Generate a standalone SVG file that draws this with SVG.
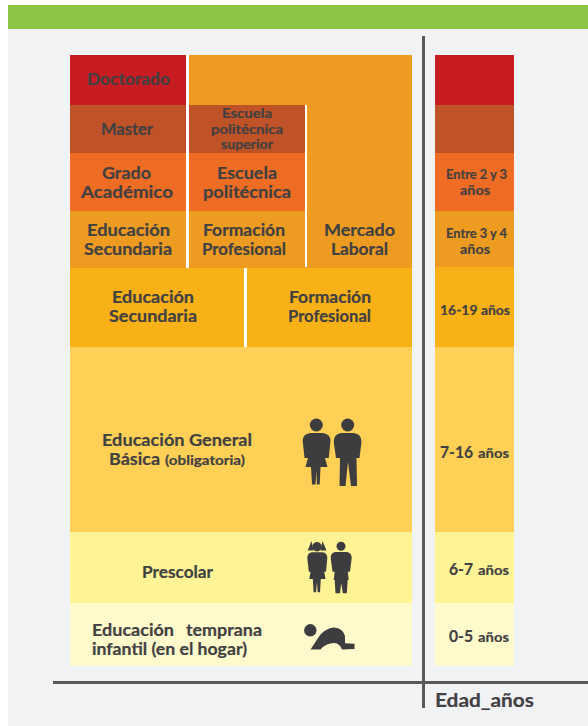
<svg xmlns="http://www.w3.org/2000/svg" width="588" height="726" viewBox="0 0 588 726">
<style>
text{font-family:"Lato","Open Sans","Liberation Sans",sans-serif;font-weight:700;fill:#414042;text-anchor:start;stroke:#414042;stroke-width:.2}
.a{font-size:17px}.b{font-size:14px}.s{font-size:12.5px}
.ic{fill:#3d3d3f}
.red{fill:#c71c22}.brn{fill:#bf5227}.org{fill:#ee6c23}.amb{fill:#ee9b21}.gld{fill:#f8b117}.yel{fill:#ffd056}.ly{fill:#fff495}.pl{fill:#fffacb}
.ln{fill:#58595b}
</style>
<rect width="588" height="726" fill="#ffffff"/>
<rect x="8" y="29" width="580" height="697" fill="#f1f2f4"/>
<rect x="8" y="5" width="580" height="24" fill="#8bc644"/>

<g id="mercado-laboral"><rect class="amb" x="189" y="55" width="223" height="213"/>
<text class="a" x="324" y="236" textLength="71" lengthAdjust="spacingAndGlyphs">Mercado</text>
<text class="a" x="331" y="255" textLength="57" lengthAdjust="spacingAndGlyphs">Laboral</text></g>

<g id="doctorado"><rect class="red" x="70" y="55" width="116" height="50"/>
<text class="a" x="87" y="85" textLength="83" lengthAdjust="spacingAndGlyphs">Doctorado</text></g>
<g id="master"><rect class="brn" x="70" y="105" width="116" height="48"/>
<text class="a" x="101" y="135" textLength="52" lengthAdjust="spacingAndGlyphs">Master</text></g>
<g id="grado"><rect class="org" x="70" y="153" width="116" height="58"/>
<text class="a" x="102" y="179" textLength="49" lengthAdjust="spacingAndGlyphs">Grado</text>
<text class="a" x="81" y="198" textLength="92" lengthAdjust="spacingAndGlyphs">Académico</text></g>
<g id="edu-sec-sup"><rect class="amb" x="70" y="211" width="116" height="57"/>
<text class="a" x="87" y="236" textLength="83" lengthAdjust="spacingAndGlyphs">Educación</text>
<text class="a" x="84" y="255" textLength="88" lengthAdjust="spacingAndGlyphs">Secundaria</text></g>

<g id="escuela-superior"><rect class="brn" x="189" y="105" width="116" height="48"/>
<text class="s" x="222" y="118" textLength="50" lengthAdjust="spacingAndGlyphs">Escuela</text>
<text class="s" x="211" y="134" textLength="72" lengthAdjust="spacingAndGlyphs">politécnica</text>
<text class="s" x="221" y="149" textLength="52" lengthAdjust="spacingAndGlyphs">superior</text></g>
<g id="escuela-politecnica"><rect class="org" x="189" y="153" width="116" height="58"/>
<text class="a" x="217" y="179" textLength="60" lengthAdjust="spacingAndGlyphs">Escuela</text>
<text class="a" x="203" y="198" textLength="88" lengthAdjust="spacingAndGlyphs">politécnica</text></g>
<g id="formacion-sup"><rect class="amb" x="189" y="211" width="116" height="56"/>
<text class="a" x="203" y="236" textLength="82" lengthAdjust="spacingAndGlyphs">Formación</text>
<text class="a" x="202" y="255" textLength="84" lengthAdjust="spacingAndGlyphs">Profesional</text></g>

<rect x="186" y="55" width="3" height="212" fill="#ffffff"/>
<rect x="305" y="105" width="2" height="162" fill="#ffffff"/>

<g id="edu-sec"><rect class="gld" x="70" y="268" width="174" height="79"/>
<text class="a" x="112" y="303" textLength="82" lengthAdjust="spacingAndGlyphs">Educación</text>
<text class="a" x="109" y="322" textLength="88" lengthAdjust="spacingAndGlyphs">Secundaria</text></g>
<rect x="244" y="268" width="3" height="79" fill="#ffffff"/>
<g id="formacion"><rect class="gld" x="247" y="268" width="165" height="79"/>
<text class="a" x="289" y="303" textLength="82" lengthAdjust="spacingAndGlyphs">Formación</text>
<text class="a" x="288" y="322" textLength="83" lengthAdjust="spacingAndGlyphs">Profesional</text></g>

<g id="egb"><rect class="yel" x="70" y="347" width="342" height="185"/>
<text class="a" x="102" y="446" textLength="150" lengthAdjust="spacingAndGlyphs">Educación General</text>
<text class="a" x="109" y="465" textLength="51" lengthAdjust="spacingAndGlyphs">Básica</text>
<text class="b" x="165" y="465" textLength="80" lengthAdjust="spacingAndGlyphs">(obligatoria)</text>
<g class="ic">
<circle cx="316.3" cy="425" r="6.5"/>
<path d="M310,433H323Q330.5,434 330.5,441L328.8,458H325L327.5,467H320.5L319.7,484.5H316.8L316.5,470L315.5,484.5H312L311,467H305.5L308,458H304.5L302.7,441Q302.7,434 310,433Z"/>
<circle cx="347.7" cy="425" r="6.5"/>
<path d="M341,433H354Q361.5,434 361.5,442L359.5,458H356.5L357,486H351L348,462L345.5,486H339.5L340,458H336L333.7,442Q333.7,434 341,433Z"/>
</g></g>

<g id="prescolar"><rect class="ly" x="70" y="532" width="342" height="71"/>
<text class="a" x="142" y="578" textLength="71" lengthAdjust="spacingAndGlyphs">Prescolar</text>
<g class="ic">
<circle cx="317" cy="546.7" r="4.7"/>
<path d="M307.7,550.6L311.5,541L313.5,550.6ZM326.5,550.6L322.5,541L320.5,550.6Z"/>
<path d="M312,552.3H322.5Q327.3,553 327.3,558L326,571.7H324.2L325.5,579H320.8L320,592.3H317.6L317,582L316,592.3H313.6L312.8,579H309.3L310.5,571.7H308.8L307.3,558Q307.3,553 312,552.3Z"/>
<circle cx="341" cy="546.3" r="4.5"/>
<path d="M335,552H347Q351.7,553 351.7,558L350,571.7H347.8L348.7,580H347.7L346.8,593.3H342.8L341.2,583L340,593.3H335.5L334.7,580H333.7L334.7,571.7H332.5L330.7,558Q330.7,553 335,552Z"/>
</g></g>

<g id="temprana"><rect class="pl" x="70" y="603" width="342" height="63"/>
<text class="a" x="92" y="636" textLength="82" lengthAdjust="spacingAndGlyphs">Educación</text>
<text class="a" x="186" y="636" textLength="76" lengthAdjust="spacingAndGlyphs">temprana</text>
<text class="a" x="92" y="655" textLength="155" lengthAdjust="spacingAndGlyphs">infantil (en el hogar)</text>
<g class="ic">
<circle cx="310.3" cy="630.3" r="6.2"/>
<path d="M310.5,649.5L320,635Q327,627.5 334,627.5Q343,628 345,636V643.3L354.5,643.7V649L342,649.5Q340,643.5 334,643Q326,643 320.5,649.5Z"/>
</g></g>

<g id="edad-col">
<rect class="red" x="435" y="55" width="79" height="50"/>
<rect class="brn" x="435" y="105" width="79" height="48"/>
<rect class="org" x="435" y="153" width="79" height="58"/>
<rect class="amb" x="435" y="211" width="79" height="56"/>
<rect class="gld" x="435" y="267" width="79" height="80"/>
<rect class="yel" x="435" y="347" width="79" height="185"/>
<rect class="ly" x="435" y="532" width="79" height="71"/>
<rect class="pl" x="435" y="603" width="79" height="63"/>
<text class="b" x="446" y="179" textLength="61" lengthAdjust="spacingAndGlyphs">Entre 2 y 3</text>
<text class="b" x="460" y="195" textLength="30" lengthAdjust="spacingAndGlyphs">años</text>
<text class="b" x="446" y="238" textLength="61" lengthAdjust="spacingAndGlyphs">Entre 3 y 4</text>
<text class="b" x="460" y="254" textLength="30" lengthAdjust="spacingAndGlyphs">años</text>
<text class="b" x="440" y="315" textLength="70" lengthAdjust="spacingAndGlyphs">16-19 años</text>
<text class="a" x="440" y="458" textLength="33" lengthAdjust="spacingAndGlyphs">7-16</text>
<text class="b" x="478" y="458" textLength="31" lengthAdjust="spacingAndGlyphs">años</text>
<text class="a" x="449" y="575" textLength="24" lengthAdjust="spacingAndGlyphs">6-7</text>
<text class="b" x="478" y="575" textLength="31" lengthAdjust="spacingAndGlyphs">años</text>
<text class="a" x="449" y="642" textLength="24" lengthAdjust="spacingAndGlyphs">0-5</text>
<text class="b" x="478" y="642" textLength="31" lengthAdjust="spacingAndGlyphs">años</text>
</g>

<g id="connectors">
<rect class="ln" x="422" y="36" width="3" height="672"/>
<rect class="ln" x="53" y="681" width="535" height="3"/>
</g>
<text x="435" y="707" font-size="18" textLength="99" lengthAdjust="spacingAndGlyphs">Edad_años</text>
</svg>
